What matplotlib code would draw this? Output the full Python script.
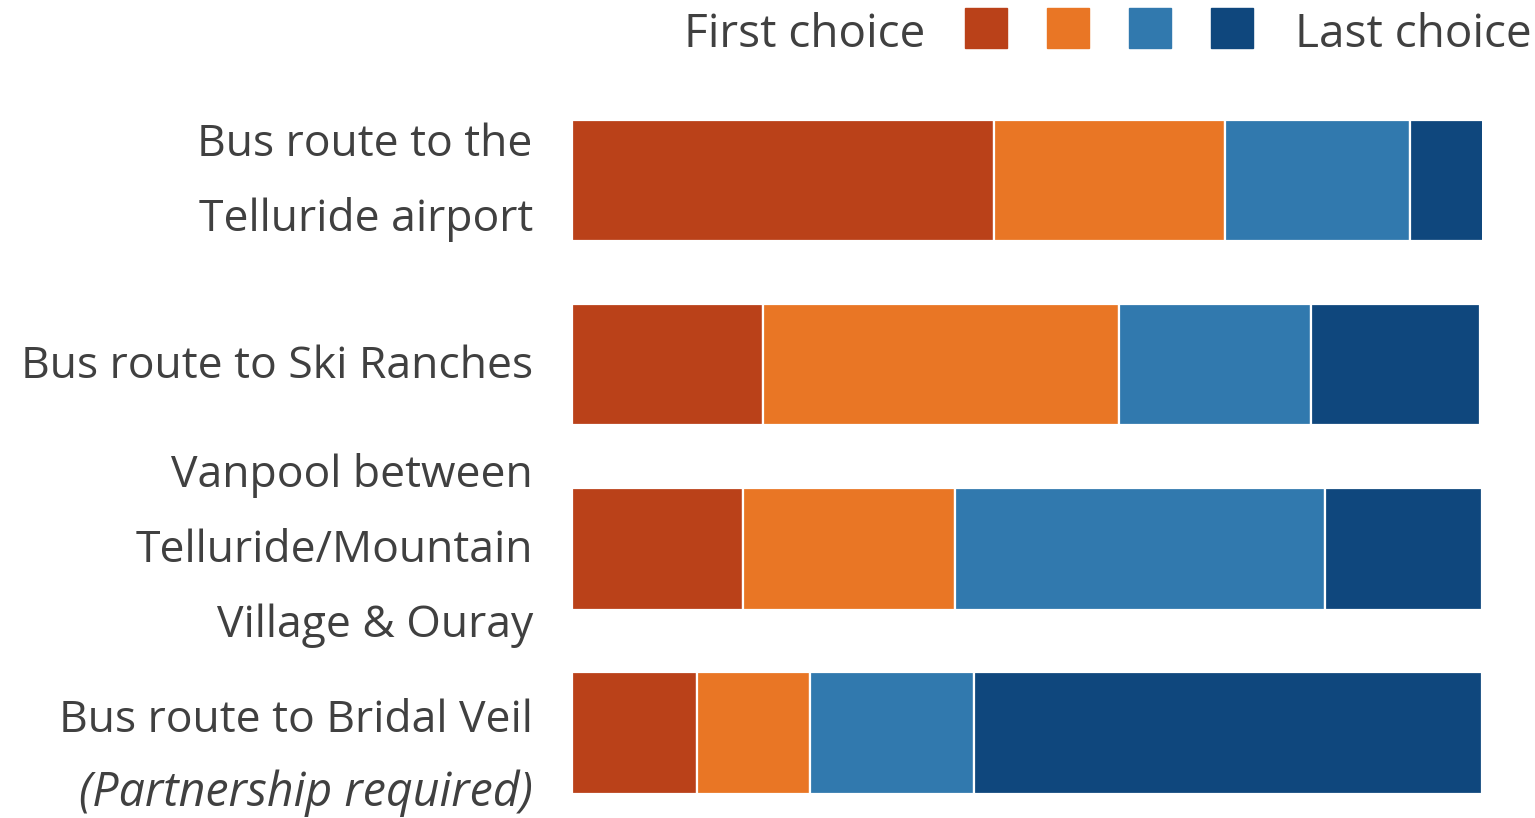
import matplotlib.pyplot as plt
from matplotlib.patches import Rectangle

plt.rcParams["font.family"] = ["Open Sans", "DejaVu Sans"]

# share of respondents ranking each option, first choice -> last choice
options = [
    "Bus route to the Telluride airport",
    "Bus route to Ski Ranches",
    "Vanpool between Telluride/Mountain Village & Ouray",
    "Bus route to Bridal Veil",
]
first = [46.4, 21.0, 18.8, 13.7]
second = [25.4, 39.1, 23.3, 12.4]
third = [20.3, 21.1, 40.6, 18.1]
last = [8.1, 18.6, 17.3, 55.8]

label_lines = [
    ["Bus route to the", "Telluride airport"],
    ["Bus route to Ski Ranches"],
    ["Vanpool between", "Telluride/Mountain", "Village & Ouray"],
    ["Bus route to Bridal Veil", "(Partnership required)"],
]
colors = ["#BA4119", "#E97625", "#3179AE", "#0F477D"]
text_color = "#404040"

W, H = 1535, 818
px = 1 / 184.2  # one pixel in row units
fig = plt.figure(figsize=(W / 100, H / 100), dpi=100)
ax = fig.add_axes([572 / W, 0, 910 / W, 1])

rows = list(range(len(options)))
left = [0.0] * len(options)
for values, color in zip([first, second, third, last], colors):
    ax.barh(rows, values, left=left, height=0.66, color=color,
            edgecolor="white", linewidth=1.6)
    left = [a + b for a, b in zip(left, values)]

ax.set_xlim(0, 100)
ax.set_ylim(3.4615, -0.980)
ax.axis("off")

# category labels, right-aligned left of the bars
for i, lines in enumerate(label_lines):
    shift = 13 + (23 if i == 3 else 0)
    n = len(lines)
    for j, line in enumerate(lines):
        y = i + ((j - (n - 1) / 2) * 75 + shift) * px
        italic = line.startswith("(")
        ax.text(-4.3, y, line, ha="right", va="baseline",
                fontsize=33.5 if italic else 32, color=text_color,
                style="italic" if italic else "normal")

# legend across the top
fig.text(925 / W, 1 - 47 / H, "First choice", ha="right", va="baseline",
         fontsize=33, color=text_color)
fig.text(1295 / W, 1 - 47 / H, "Last choice", ha="left", va="baseline",
         fontsize=33, color=text_color)
for k, color in enumerate(colors):
    x0 = 965 + k * 82
    fig.patches.append(Rectangle((x0 / W, 1 - 48 / H), 42 / W, 40 / H,
                                 transform=fig.transFigure, color=color))

fig.savefig("out.png", dpi=100, facecolor="white")
